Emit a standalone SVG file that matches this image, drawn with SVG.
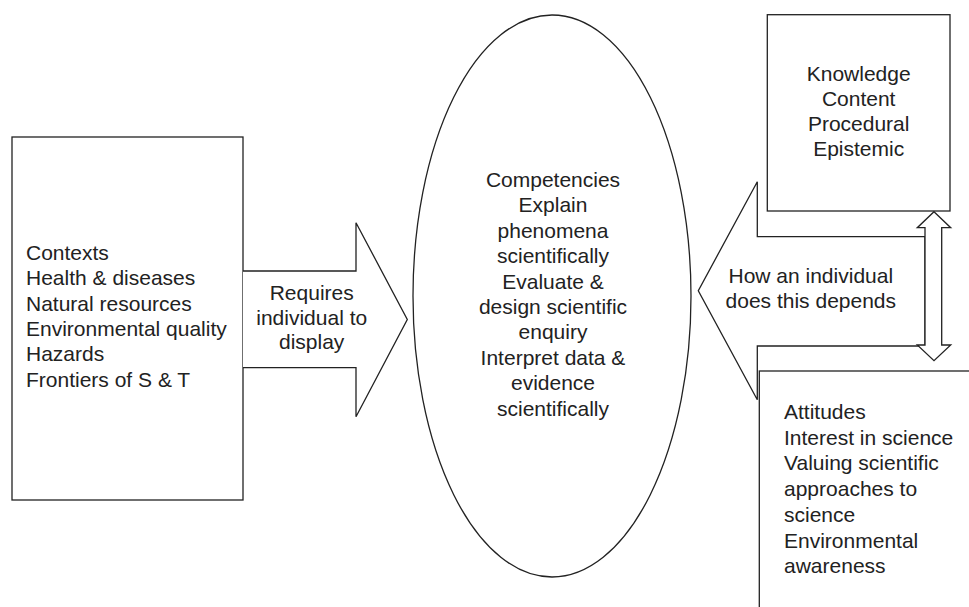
<svg xmlns="http://www.w3.org/2000/svg" width="969" height="607" viewBox="0 0 969 607">
<style>
.shape{fill:#fff;stroke:#222;stroke-width:1.3}
.t{font-family:"Liberation Sans",Arial,sans-serif;font-size:21px;fill:#222}
.c{text-anchor:middle}
</style>
<rect x="0" y="0" width="969" height="607" fill="#fff"/>
<g id="contexts">
<rect class="shape" x="12" y="137" width="231" height="363"/>
<text class="t" x="26" y="260">Contexts</text>
<text class="t" x="26" y="285.3">Health &amp; diseases</text>
<text class="t" x="26" y="310.6">Natural resources</text>
<text class="t" x="26" y="336">Environmental quality</text>
<text class="t" x="26" y="361.3">Hazards</text>
<text class="t" x="26" y="386.6">Frontiers of S &amp; T</text>
</g>
<g id="competencies">
<ellipse class="shape" cx="552" cy="296" rx="139" ry="281"/>
<text class="t c" x="553" y="187">Competencies</text>
<text class="t c" x="553" y="212.4">Explain</text>
<text class="t c" x="553" y="237.8">phenomena</text>
<text class="t c" x="553" y="263.2">scientifically</text>
<text class="t c" x="553" y="288.6">Evaluate &amp;</text>
<text class="t c" x="553" y="314">design scientific</text>
<text class="t c" x="553" y="339.4">enquiry</text>
<text class="t c" x="553" y="364.8">Interpret data &amp;</text>
<text class="t c" x="553" y="390.2">evidence</text>
<text class="t c" x="553" y="415.6">scientifically</text>
</g>
<g id="knowledge">
<rect class="shape" x="767.3" y="14.7" width="182.7" height="196.3"/>
<text class="t c" x="858.7" y="81">Knowledge</text>
<text class="t c" x="858.7" y="106">Content</text>
<text class="t c" x="858.7" y="131.2">Procedural</text>
<text class="t c" x="858.7" y="156.4">Epistemic</text>
</g>
<g id="connectors">
<path class="shape" d="M243,271 H356 V222.7 L407.3,319.5 L356,416.7 V367.7 H243"/>
<text class="t c" x="311.7" y="300">Requires</text>
<text class="t c" x="311.7" y="324.5">individual to</text>
<text class="t c" x="311.7" y="349">display</text>
<path class="shape" d="M925,236.7 H757.3 V181.7 L698.3,290.7 L757.3,399.7 V346 H925 Z"/>
<text class="t c" x="810.8" y="283.3">How an individual</text>
<text class="t c" x="810.8" y="308.3">does this depends</text>
</g>
<g id="attitudes">
<rect class="shape" x="759.3" y="371" width="230" height="260"/>
<text class="t" x="784" y="419">Attitudes</text>
<text class="t" x="784" y="444.7">Interest in science</text>
<text class="t" x="784" y="470.4">Valuing scientific</text>
<text class="t" x="784" y="496.1">approaches to</text>
<text class="t" x="784" y="521.8">science</text>
<text class="t" x="784" y="547.5">Environmental</text>
<text class="t" x="784" y="573.2">awareness</text>
</g>
<g id="connectors-2">
<path class="shape" d="M934,211.7 L950.7,227.7 H941.7 V345 H950.7 L934,360.7 L917.3,345 H925 V227.7 H917.3 Z"/>
</g>
</svg>
